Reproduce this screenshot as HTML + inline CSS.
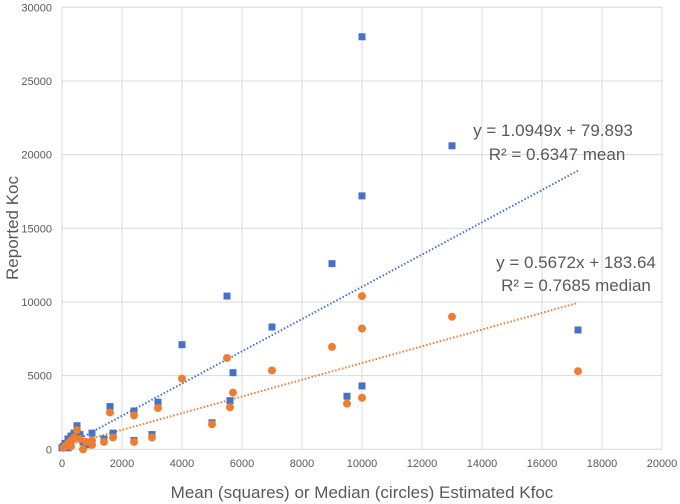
<!DOCTYPE html>
<html><head><meta charset="utf-8"><style>
body{margin:0;background:#fff;}
svg{display:block;font-family:"Liberation Sans",sans-serif;}
</style></head><body>
<svg id="c" width="680" height="504"></svg>
<script>
const xTicks=[0,2000,4000,6000,8000,10000,12000,14000,16000,18000,20000];
const yTicks=[0,5000,10000,15000,20000,25000,30000];
const meanX=[10000,13000,10000,9000,5500,7000,4000,5700,17200,9500,10000,5600,5000,3200,2400,1600,2400,3000,1700,1400,1000,500,400,300,200,100,50,0,600,700,800,300,200];
const meanY=[28000,20600,17200,12600,10400,8300,7100,5200,8100,3600,4300,3300,1800,3200,2600,2900,600,1000,1100,700,1100,1600,1100,900,700,400,200,100,1000,500,300,300,100];
const medX=[10000,10000,9000,13000,17200,5500,4000,7000,5700,5600,10000,9500,5000,3200,2400,1600,2400,3000,1700,1400,1000,500,400,300,200,100,50,600,700,800,300,1000];
const medY=[10400,8200,6950,9000,5300,6200,4800,5350,3850,2850,3500,3100,1700,2800,2300,2500,500,800,800,500,600,1300,800,600,400,200,100,700,0,500,200,300];
const meanFit=[1.0949,79.893];
const medFit=[0.5672,183.64];
const fitRange=[0,17200];
const NS="http://www.w3.org/2000/svg";
const svg=document.getElementById('c');
const X=v=>62+v*0.03, Y=v=>449.3-v*0.0147333;
function mk(t,a,p){const e=document.createElementNS(NS,t);for(const k in a)e.setAttribute(k,a[k]);(p||svg).appendChild(e);return e;}
xTicks.forEach(v=>{const l=mk('line',{x1:X(v),x2:X(v),y1:Y(0),y2:Y(30000),stroke:'#d9d9d9','stroke-width':1});


const t=mk('text',{x:X(v),y:467,'text-anchor':'middle','font-size':11,fill:'#595959'});t.textContent=v;

});
yTicks.forEach(v=>{const l=mk('line',{x1:X(0),x2:X(20000),y1:Y(v),y2:Y(v),stroke:'#d9d9d9','stroke-width':1});


const t=mk('text',{x:52,y:Y(v)+4,'text-anchor':'end','font-size':11,fill:'#595959'});t.textContent=v;

});
function fit(f,col,name){const l=mk('line',{x1:X(fitRange[0]),y1:Y(f[1]+f[0]*fitRange[0]),x2:X(fitRange[1]),y2:Y(f[1]+f[0]*fitRange[1]),stroke:col,'stroke-width':2,'stroke-dasharray':'1.5 2'});

}
fit(meanFit,'#4472c4','mean-trendline');
fit(medFit,'#ed7d31','median-trendline');
meanX.forEach((x,i)=>{const r=mk('rect',{x:X(x)-3.5,y:Y(meanY[i])-3.5,width:7,height:7,fill:'#4472c4'});

});
medX.forEach((x,i)=>{const c=mk('circle',{cx:X(x),cy:Y(medY[i]),r:4,fill:'#ed7d31'});

});
function txt(s,x,y,sz,name,extra){const t=mk('text',Object.assign({x:x,y:y,'text-anchor':'middle','font-size':sz,fill:'#595959'},extra||{}));t.textContent=s;

return t;}
txt('y = 1.0949x + 79.893',553,136,17,'mean-equation');
txt('R² = 0.6347 mean',557,160,17,'mean-r-squared');
txt('y = 0.5672x + 183.64',576,268,17,'median-equation');
txt('R² = 0.7685 median',576,291,17,'median-r-squared');
txt('Mean (squares) or Median (circles) Estimated Kfoc',362,498,17,'x-axis-title');
txt('Reported Koc',18,228,17,'y-axis-title',{transform:'rotate(-90 18 228)'});
</script>
</body></html>
